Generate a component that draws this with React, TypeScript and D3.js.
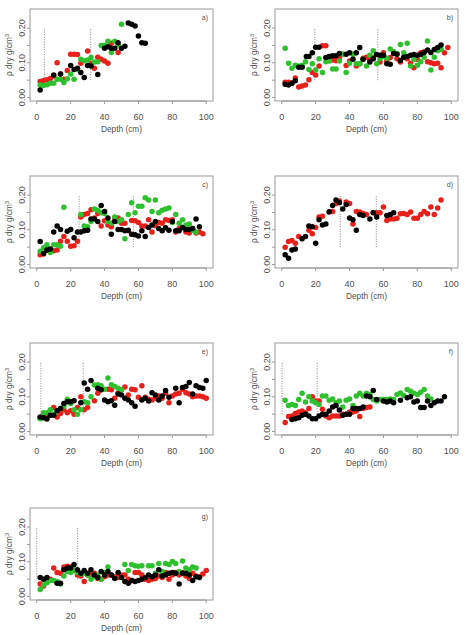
import * as d3 from 'd3';

type Pt = [number, number];

// depth (cm), dry density (g/cm3)
const aBlack: Pt[] = [[2,0.022],[10,0.065],[14,0.068],[20,0.092],[22,0.081],[24,0.084],[26,0.072],[28,0.058],[30,0.092],[32,0.091],[36,0.066],[40,0.142],[42,0.146],[44,0.142],[46,0.142],[48,0.158],[50,0.142],[52,0.148],[54,0.215],[56,0.211],[58,0.206],[60,0.177],[62,0.158],[64,0.156]];
const aRed: Pt[] = [[2,0.046],[4,0.049],[6,0.051],[8,0.055],[10,0.062],[12,0.1],[14,0.068],[16,0.053],[18,0.078],[20,0.125],[22,0.125],[24,0.124],[26,0.099],[30,0.134],[32,0.099],[34,0.084],[36,0.116],[38,0.11],[40,0.105],[42,0.099],[44,0.156],[48,0.13]];
const aGreen: Pt[] = [[2,0.036],[4,0.035],[6,0.037],[8,0.041],[10,0.041],[12,0.053],[14,0.053],[16,0.043],[18,0.054],[20,0.068],[22,0.053],[24,0.081],[26,0.11],[28,0.106],[30,0.108],[32,0.115],[34,0.102],[36,0.103],[38,0.15],[40,0.15],[42,0.162],[44,0.13],[46,0.162],[48,0.151],[50,0.211]];

const bBlack: Pt[] = [[2,0.038],[4,0.036],[6,0.041],[8,0.048],[10,0.087],[12,0.087],[14.5,0.118],[16,0.118],[18,0.129],[20,0.145],[22,0.145],[26,0.115],[28,0.118],[30,0.12],[32,0.12],[34,0.127],[38,0.125],[40,0.129],[42,0.11],[44,0.129],[46,0.144],[48,0.11],[52,0.102],[54,0.112],[56,0.124],[58,0.122],[60,0.122],[62,0.097],[64,0.096],[66,0.127],[68,0.125],[70,0.107],[72,0.116],[74,0.118],[76,0.122],[78,0.124],[80,0.122],[82,0.124],[84,0.13],[86,0.137],[88,0.13],[90,0.138],[92,0.144],[94,0.151]];
const bRed: Pt[] = [[2,0.044],[4,0.044],[6,0.042],[8,0.056],[10,0.03],[12,0.033],[14,0.036],[16,0.051],[18,0.072],[20,0.065],[22,0.091],[24,0.149],[26,0.149],[28,0.118],[30,0.108],[32,0.106],[34,0.116],[36,0.125],[38,0.092],[40,0.105],[42,0.125],[44,0.091],[46,0.097],[48,0.113],[50,0.116],[52,0.108],[54,0.116],[58,0.102],[60,0.129],[62,0.106],[64,0.115],[66,0.129],[68,0.112],[70,0.102],[72,0.115],[74,0.112],[76,0.099],[78,0.086],[80,0.11],[82,0.129],[84,0.132],[86,0.103],[88,0.1],[90,0.097],[92,0.099],[94,0.086],[96,0.129],[98,0.144]];
const bGreen: Pt[] = [[2,0.142],[4,0.099],[6,0.084],[8,0.093],[10,0.091],[12,0.093],[14,0.103],[16,0.081],[18,0.097],[20,0.079],[22,0.112],[24,0.072],[26,0.103],[28,0.105],[30,0.082],[32,0.082],[34,0.105],[36,0.125],[38,0.072],[40,0.099],[42,0.125],[44,0.097],[46,0.097],[48,0.11],[50,0.091],[52,0.122],[54,0.135],[56,0.097],[58,0.112],[60,0.118],[62,0.113],[64,0.14],[66,0.132],[68,0.127],[70,0.153],[72,0.129],[74,0.156],[76,0.091],[78,0.11],[80,0.093],[82,0.103],[84,0.116],[86,0.163],[88,0.079],[90,0.116],[92,0.135],[94,0.139]];

const cBlack: Pt[] = [[2,0.066],[4,0.032],[6,0.042],[8,0.045],[10,0.094],[12,0.111],[14,0.101],[18,0.096],[20,0.101],[22,0.077],[24,0.094],[26,0.094],[28,0.097],[30,0.099],[32,0.131],[34,0.131],[36,0.124],[38,0.17],[40,0.153],[42,0.134],[44,0.087],[46,0.124],[48,0.101],[50,0.101],[52,0.097],[54,0.099],[56,0.087],[58,0.086],[60,0.082],[62,0.097],[64,0.081],[66,0.107],[68,0.114],[70,0.124],[72,0.104],[74,0.097],[76,0.106],[78,0.099],[80,0.124],[82,0.097],[84,0.097],[86,0.107],[88,0.101],[90,0.101],[92,0.104],[94,0.131],[96,0.109]];
const cRed: Pt[] = [[2,0.028],[4,0.03],[6,0.042],[8,0.042],[10,0.04],[12,0.042],[14,0.067],[16,0.081],[18,0.067],[20,0.053],[22,0.054],[24,0.067],[26,0.137],[28,0.144],[30,0.147],[32,0.158],[34,0.134],[36,0.147],[38,0.111],[40,0.126],[42,0.114],[44,0.109],[46,0.134],[48,0.134],[50,0.119],[52,0.119],[54,0.097],[56,0.127],[58,0.126],[60,0.121],[62,0.111],[64,0.111],[66,0.129],[68,0.094],[70,0.112],[72,0.121],[74,0.119],[76,0.129],[78,0.127],[80,0.129],[82,0.094],[84,0.104],[86,0.107],[88,0.094],[90,0.091],[92,0.099],[94,0.091],[96,0.094],[98,0.089]];
const cGreen: Pt[] = [[2,0.038],[4,0.048],[6,0.057],[8,0.035],[10,0.057],[12,0.057],[14,0.053],[16,0.165],[26,0.144],[28,0.111],[30,0.109],[32,0.124],[34,0.16],[36,0.156],[38,0.149],[40,0.147],[42,0.124],[44,0.119],[46,0.137],[48,0.124],[50,0.129],[52,0.074],[54,0.144],[56,0.178],[58,0.149],[60,0.168],[62,0.168],[64,0.192],[66,0.186],[68,0.153],[70,0.186],[72,0.149],[74,0.156],[76,0.16],[78,0.163],[80,0.121],[82,0.144],[84,0.119],[86,0.129],[88,0.114],[90,0.117],[92,0.099],[94,0.094]];

const dBlack: Pt[] = [[2,0.028],[4,0.018],[6,0.042],[8,0.045],[12,0.074],[14,0.081],[16,0.111],[18,0.109],[20,0.061],[22,0.129],[24,0.114],[26,0.117],[28,0.152],[30,0.17],[32,0.186],[34,0.178],[36,0.16],[38,0.173],[40,0.134],[42,0.129],[44,0.099],[46,0.144],[48,0.141],[52,0.131],[54,0.149],[56,0.137],[62,0.141],[64,0.144],[66,0.149]];
const dRed: Pt[] = [[2,0.05],[4,0.066],[6,0.069],[8,0.061],[10,0.081],[16,0.099],[18,0.089],[20,0.107],[22,0.137],[24,0.139],[28,0.151],[30,0.153],[32,0.176],[34,0.183],[38,0.18],[40,0.176],[42,0.117],[44,0.153],[46,0.151],[48,0.147],[50,0.144],[54,0.15],[56,0.149],[58,0.149],[60,0.166],[62,0.127],[64,0.131],[66,0.131],[68,0.133],[70,0.146],[72,0.147],[74,0.144],[76,0.151],[78,0.133],[80,0.133],[82,0.144],[84,0.153],[86,0.146],[88,0.166],[90,0.144],[92,0.163],[94,0.186]];

const eBlack: Pt[] = [[2,0.042],[4,0.04],[6,0.036],[8,0.047],[10,0.047],[12,0.06],[14,0.066],[16,0.081],[18,0.086],[20,0.086],[22,0.089],[26,0.083],[28,0.14],[30,0.122],[32,0.147],[36,0.125],[38,0.12],[40,0.091],[42,0.086],[44,0.089],[46,0.076],[48,0.108],[50,0.105],[52,0.096],[54,0.091],[56,0.083],[58,0.073],[62,0.091],[64,0.096],[66,0.088],[68,0.112],[70,0.105],[72,0.091],[74,0.102],[76,0.118],[78,0.099],[82,0.125],[84,0.083],[86,0.127],[88,0.13],[90,0.141],[92,0.108],[94,0.132],[96,0.127],[98,0.125],[100,0.147]];
const eRed: Pt[] = [[2,0.04],[6,0.042],[8,0.047],[10,0.069],[12,0.042],[14,0.052],[16,0.063],[18,0.054],[20,0.06],[22,0.05],[24,0.069],[26,0.1],[28,0.063],[30,0.069],[34,0.089],[36,0.11],[38,0.12],[42,0.122],[44,0.12],[46,0.096],[48,0.11],[50,0.12],[52,0.128],[54,0.105],[56,0.122],[58,0.12],[60,0.099],[62,0.132],[64,0.099],[66,0.093],[68,0.091],[70,0.096],[72,0.102],[74,0.096],[76,0.11],[78,0.083],[80,0.102],[82,0.108],[84,0.11],[86,0.122],[88,0.112],[90,0.108],[92,0.1],[94,0.102],[96,0.102],[98,0.1],[100,0.096]];
const eGreen: Pt[] = [[2,0.037],[4,0.054],[6,0.054],[8,0.063],[10,0.05],[12,0.06],[14,0.066],[16,0.073],[18,0.093],[20,0.081],[22,0.063],[24,0.05],[26,0.063],[28,0.086],[30,0.083],[32,0.1],[34,0.134],[36,0.135],[38,0.132],[40,0.122],[42,0.154],[44,0.135],[46,0.13],[48,0.125],[50,0.12]];

const fBlack: Pt[] = [[6,0.035],[8,0.037],[10,0.04],[12,0.047],[14,0.05],[16,0.045],[18,0.037],[20,0.037],[22,0.045],[24,0.05],[26,0.05],[28,0.059],[30,0.071],[32,0.075],[34,0.062],[36,0.047],[38,0.05],[40,0.05],[42,0.066],[44,0.066],[46,0.066],[48,0.071],[50,0.102],[52,0.1],[54,0.118],[56,0.092],[60,0.088],[62,0.085],[64,0.088],[66,0.083],[70,0.09],[74,0.097],[76,0.1],[78,0.085],[80,0.088],[82,0.069],[84,0.069],[86,0.088],[88,0.075],[90,0.083],[92,0.088],[94,0.088],[96,0.1]];
const fRed: Pt[] = [[2,0.026],[4,0.043],[6,0.045],[8,0.052],[10,0.056],[12,0.059],[14,0.054],[16,0.066],[18,0.1],[20,0.088],[22,0.088],[24,0.064],[26,0.045],[28,0.04],[30,0.045],[32,0.045],[34,0.045],[36,0.05],[38,0.05],[40,0.056],[42,0.056],[44,0.059],[46,0.043],[48,0.066],[50,0.069],[52,0.071]];
const fGreen: Pt[] = [[2,0.09],[4,0.075],[6,0.078],[8,0.075],[10,0.092],[12,0.11],[14,0.085],[16,0.1],[18,0.088],[20,0.083],[22,0.078],[24,0.102],[26,0.102],[28,0.09],[30,0.094],[32,0.083],[34,0.088],[36,0.071],[38,0.09],[40,0.094],[42,0.075],[44,0.102],[46,0.11],[48,0.102],[50,0.11],[52,0.107],[54,0.092],[56,0.088],[58,0.092],[60,0.092],[62,0.092],[64,0.094],[66,0.092],[68,0.107],[70,0.111],[72,0.104],[74,0.121],[76,0.116],[78,0.11],[80,0.107],[82,0.113],[84,0.121],[86,0.102],[88,0.094]];

const gBlack: Pt[] = [[2,0.055],[4,0.05],[6,0.055],[12,0.038],[14,0.038],[16,0.077],[18,0.082],[20,0.082],[22,0.092],[24,0.077],[26,0.067],[28,0.075],[30,0.067],[32,0.077],[34,0.062],[36,0.055],[38,0.072],[40,0.062],[42,0.072],[44,0.062],[46,0.052],[48,0.069],[50,0.055],[52,0.043],[54,0.038],[56,0.046],[58,0.043],[60,0.046],[62,0.05],[64,0.055],[66,0.062],[68,0.057],[70,0.062],[72,0.077],[74,0.059],[76,0.062],[78,0.067],[80,0.069],[82,0.067],[84,0.036],[86,0.067],[88,0.067],[90,0.062],[92,0.046],[94,0.057],[96,0.055]];
const gRed: Pt[] = [[2,0.036],[4,0.03],[6,0.05],[8,0.05],[10,0.082],[12,0.069],[14,0.067],[16,0.085],[18,0.087],[20,0.085],[22,0.075],[24,0.062],[26,0.059],[28,0.043],[30,0.062],[32,0.062],[34,0.067],[36,0.052],[38,0.05],[40,0.057],[42,0.062],[44,0.062],[46,0.057],[48,0.055],[50,0.062],[52,0.062],[54,0.05],[56,0.046],[58,0.069],[60,0.069],[62,0.062],[64,0.05],[66,0.046],[68,0.05],[70,0.052],[72,0.059],[74,0.055],[76,0.069],[78,0.05],[80,0.062],[82,0.069],[84,0.062],[86,0.069],[88,0.059],[90,0.052],[92,0.067],[94,0.059],[96,0.057],[98,0.065],[100,0.075]];
const gGreen: Pt[] = [[2,0.02],[4,0.033],[6,0.04],[8,0.046],[10,0.046],[12,0.043],[14,0.036],[16,0.059],[18,0.072],[20,0.069],[22,0.077],[24,0.069],[26,0.065],[28,0.067],[30,0.062],[32,0.05],[34,0.057],[36,0.062],[38,0.05],[40,0.069],[42,0.085],[52,0.092],[54,0.075],[56,0.092],[58,0.089],[60,0.087],[62,0.089],[66,0.089],[68,0.089],[70,0.067],[72,0.095],[74,0.072],[76,0.095],[78,0.092],[80,0.101],[82,0.095],[84,0.072],[86,0.102],[88,0.082],[90,0.077],[92,0.085],[94,0.082]];

const panelLabels = ['a)', 'b)', 'c)', 'd)', 'e)', 'f)', 'g)'];
const dividers: number[][] = [[4.5, 31.8], [19.5, 56.7], [25, 57], [34.5, 55.8], [2.4, 27.4], [0.2, 20.9], [0, 24.1]];
const xTicks = [0, 20, 40, 60, 80, 100];
const yTicks = [0, 0.05, 0.1, 0.15, 0.2];
const yLabels = [0, 0.1, 0.2];

const RED = '#e8201c';
const GREEN = '#2fc02f';
const BLACK = '#000000';

const panels = [
  { red: aRed, green: aGreen, black: aBlack },
  { red: bRed, green: bGreen, black: bBlack },
  { red: cRed, green: cGreen, black: cBlack },
  { red: dRed, green: [] as Pt[], black: dBlack },
  { red: eRed, green: eGreen, black: eBlack },
  { red: fRed, green: fGreen, black: fBlack },
  { red: gRed, green: gGreen, black: gBlack },
];

const W = 183;
const H = 92;
const colX = [30, 275];
const rowY = [9, 176, 343, 508];

function Panel({ idx }: { idx: number }) {
  const left = colX[idx % 2];
  const top = rowY[Math.floor(idx / 2)];
  const p = panels[idx];
  const x = d3.scaleLinear().domain([-4, 104]).range([0, W]);
  const y = d3.scaleLinear().domain([-0.01, 0.255]).range([H, 0]);
  const series: [Pt[], string][] = [[p.red, RED], [p.green, GREEN], [p.black, BLACK]];
  const fmt = d3.format('.2f');

  return (
    <g transform={`translate(${left},${top})`}>
      {/* divider lines */}
      {dividers[idx].map((d, i) => (
        <line key={'v' + i} x1={x(d)} x2={x(d)} y1={y(0.05)} y2={y(0.2)}
          stroke="#666" strokeWidth={0.8} strokeDasharray="1,1.5" />
      ))}
      {series.map(([pts, col], si) =>
        pts.map((d, i) => (
          <circle key={si + '-' + i} cx={x(d[0])} cy={y(d[1])} r={2.75} fill={col} />
        ))
      )}
      <rect x={0} y={0} width={W} height={H} fill="none" stroke="#9a9a9a" strokeWidth={1} />
      {/* x axis */}
      <line x1={x(0)} x2={x(100)} y1={H} y2={H} stroke="#9a9a9a" />
      {xTicks.map((t) => (
        <g key={'x' + t}>
          <line x1={x(t)} x2={x(t)} y1={H} y2={H + 3} stroke="#9a9a9a" />
          <text x={x(t)} y={H + 19} textAnchor="middle" fontSize={9} fill="#505050">{t}</text>
        </g>
      ))}
      <text x={W / 2} y={H + 31} textAnchor="middle" fontSize={8.3} fill="#505050">Depth (cm)</text>
      {/* y axis */}
      {yTicks.map((t) => (
        <line key={'y' + t} x1={-3} x2={0} y1={y(t)} y2={y(t)} stroke="#9a9a9a" />
      ))}
      {yLabels.map((t) => (
        <text key={'yl' + t} transform={`translate(-5.5,${y(t)}) rotate(-90)`} textAnchor="middle"
          fontSize={9} fill="#505050">{fmt(t)}</text>
      ))}
      <text transform={`translate(-18.5,${H / 2}) rotate(-90)`} textAnchor="middle" fontSize={8.3} fill="#505050">
        ρ dry g/cm<tspan dy={-3} fontSize={5.5}>3</tspan>
      </text>
      <text x={W - 5} y={11} textAnchor="end" fontSize={7} fill="#505050">{panelLabels[idx]}</text>
    </g>
  );
}

export default function App() {
  return (
    <svg width={465} height={635} style={{ position: 'absolute', left: 0, top: 0, background: '#fff' }}
      fontFamily="'Liberation Sans', Arial, sans-serif">
      {panels.map((_, i) => <Panel key={i} idx={i} />)}
    </svg>
  );
}
